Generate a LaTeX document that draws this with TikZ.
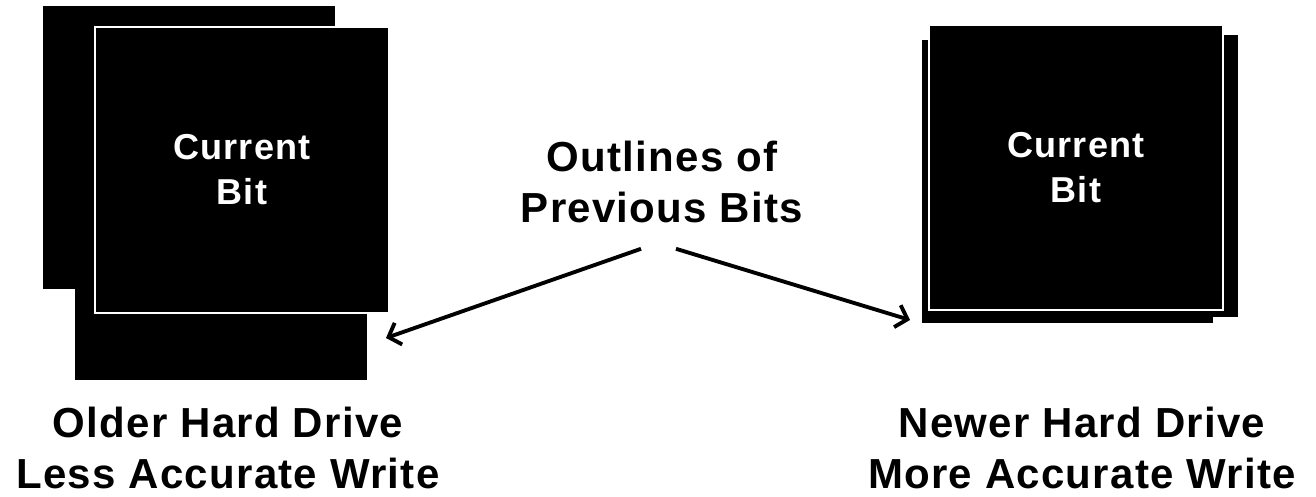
\documentclass[tikz,border=0pt]{standalone}
\usepackage{fontspec}
\setmainfont{Liberation Sans}[LetterSpace=3]
\usepackage{tikz}
\usetikzlibrary{arrows.meta, positioning}

\begin{document}
\begin{tikzpicture}[
  x=0.02cm, y=-0.02cm,
  prevbit/.style={fill=black, inner sep=0pt, outer sep=0pt, anchor=north west},
  curbit/.style={fill=black, draw=white, line width=1.2pt, inner sep=0pt, outer sep=0pt, anchor=north west, text=white, align=center, font=\bfseries\fontsize{20.5}{25.6}\selectfont},
  caption/.style={inner sep=0pt, align=center, font=\bfseries\fontsize{23.9}{28.5}\selectfont},
  pointer/.style={-{Straight Barb[length=6pt, width=13pt]}, line width=2.2pt}
]
  \useasboundingbox (0,0) rectangle (1316,497);

  % Older drive: outlines spread out
  \node[prevbit, minimum width=5.84cm, minimum height=5.66cm] (oldprevA) at (43,6) {};
  \node[prevbit, minimum width=5.84cm, minimum height=5.84cm] (oldprevB) at (75,88) {};
  \node[curbit, minimum width=5.88cm, minimum height=5.72cm] (oldbit) at (95,27) {Current\\Bit};

  % Newer drive: outlines close
  \node[prevbit, minimum width=5.82cm, minimum height=5.66cm] (newprevA) at (922,40) {};
  \node[prevbit, minimum width=5.82cm, minimum height=5.64cm] (newprevB) at (947,35) {};
  \node[curbit, minimum width=5.88cm, minimum height=5.70cm] (newbit) at (929,25) {Current\\Bit};

  % Labels
  \node[caption] (outlines) at (662,182) {Outlines of\\Previous Bits};
  \node[caption] (oldcap) at (228,448) {Older Hard Drive\\Less Accurate Write};
  \node[caption] (newcap) at (1082,448) {Newer Hard Drive\\More Accurate Write};

  % Pointers
  \coordinate (oldtip) at (386,338);
  \coordinate (newtip) at (910,320);
  \draw[pointer] ([xshift=-0.42cm, yshift=-0.52cm]outlines.south) -- (oldtip);
  \draw[pointer] ([xshift=0.28cm, yshift=-0.52cm]outlines.south) -- (newtip);
\end{tikzpicture}
\end{document}
